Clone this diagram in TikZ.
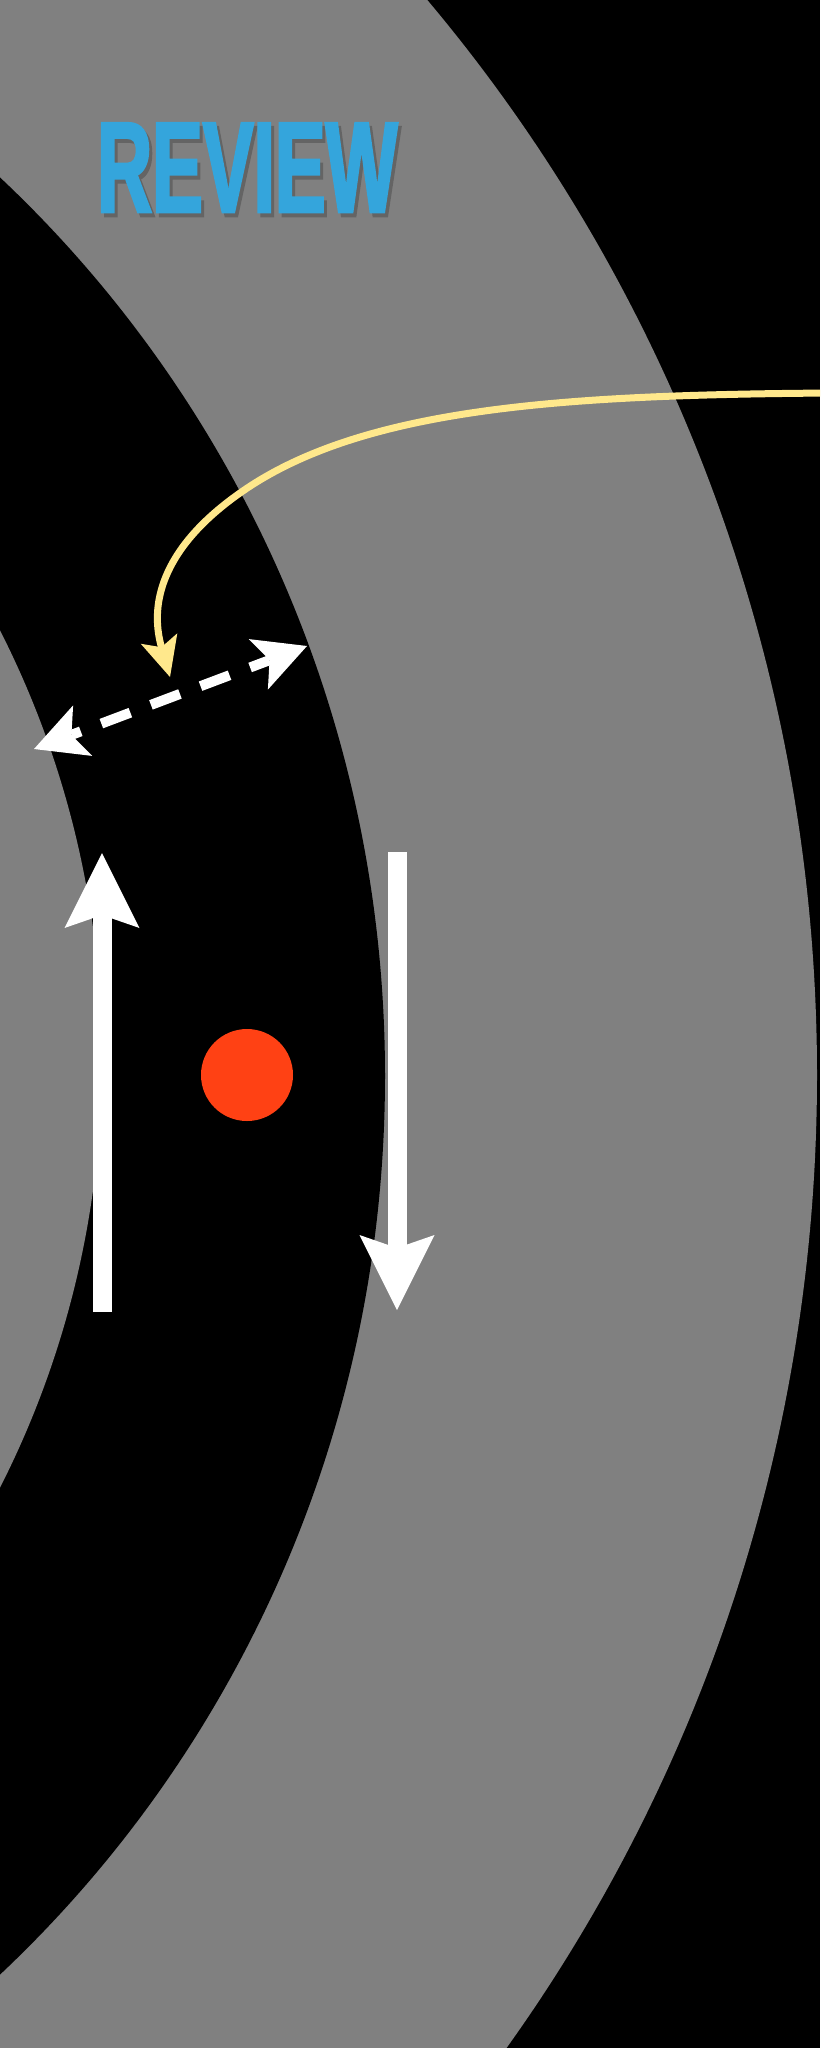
\documentclass[tikz,border=0pt]{standalone}
\usepackage{fontspec}
\usetikzlibrary{shapes,arrows.meta,positioning}
\newfontfamily\reviewfont[FakeStretch=0.59,FakeBold=2]{Liberation Sans}
\definecolor{ringgray}{RGB}{128,128,128}
\definecolor{dotred}{RGB}{255,65,20}
\definecolor{titleblue}{RGB}{52,165,220}
\definecolor{hintyellow}{RGB}{255,232,140}
\newcommand{\shadowed}[1]{\rlap{\hspace{3pt}\raisebox{-4pt}{\color{ringgray!78!black}#1}}#1}
\tikzstyle{ttl}=[anchor=base west,inner sep=0pt,text=titleblue,font={\fontsize{129}{129}\reviewfont\bfseries}]
\tikzstyle{reddot}=[circle,fill=dotred,minimum size=92pt,inner sep=0pt]
\tikzstyle{bigarr}=[draw=white,line width=19pt,-{Stealth[length=75pt,width=75pt,inset=13pt,line width=0pt]}]
\tikzstyle{swaparr}=[draw=white,line width=10pt,dash pattern=on 31pt off 22pt,dash phase=21pt,{Stealth[length=52pt,width=54pt,inset=12pt,line width=0pt]}-{Stealth[length=52pt,width=54pt,inset=12pt,line width=0pt]}]
\tikzstyle{hintarr}=[draw=hintyellow,line width=7pt,-{Stealth[length=40pt,width=38pt,inset=9pt,line width=0pt]}]

\begin{document}
\begin{tikzpicture}[x=1pt,y=-1pt]
\useasboundingbox (0,0) rectangle (820,2048);
\clip (0,0) rectangle (820,2048);
\fill[black] (0,0) rectangle (820,2048);
\fill[ringgray] (-800,1075) ellipse [x radius=1617,y radius=1651];
\fill[black] (-800,1076) ellipse [x radius=1185,y radius=1218];
\fill[ringgray] (-800,1059) ellipse [x radius=902,y radius=927];
\node[ttl] (title) at (97,212) {\shadowed{REVIEW}};
\node[reddot] (dot) at (247,1075) {};
\coordinate (upfoot) at (102,1312);
\coordinate (uphead) at (102,853);
\coordinate (downtop) at (397,852);
\coordinate (downhead) at (397,1310);
\coordinate (swapl) at (34,749);
\coordinate (swapr) at (307,646);
\coordinate (hintstart) at (830,393);
\coordinate (hinttip) at (170,677);
\draw[bigarr] (upfoot) -- (uphead);
\draw[bigarr] (downtop) -- (downhead);
\draw[swaparr] (swapl) -- (swapr);
\draw[hintarr] (hintstart) .. controls (570,395) and (363,406) .. (240,493) .. controls (166,545) and (148,600) .. (hinttip);
\end{tikzpicture}
\end{document}
